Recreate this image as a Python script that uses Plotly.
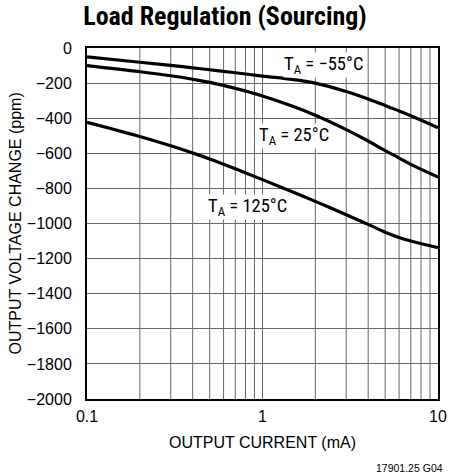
import math
import plotly.graph_objects as go

current_ma = [0.1, 0.2, 0.3, 0.4, 0.5, 0.7, 1, 1.5, 2, 3, 4, 5, 6, 7, 10]
t_m55 = [-51, -81, -99, -113, -124, -141, -160, -180, -200, -248, -290, -327, -359, -386, -454]
t_25 = [-100, -135, -158, -178, -196, -230, -273, -333, -383, -465, -530, -585, -627, -663, -735]
t_125 = [-423, -504, -557, -598, -632, -688, -750, -822, -874, -950, -1005, -1050, -1080, -1100, -1138]

y_ticks = [0, -200, -400, -600, -800, -1000, -1200, -1400, -1600, -1800, -2000]
y_tick_text = ["0" if v == 0 else "\u2212" + str(-v) for v in y_ticks]
x_ticks = [0.1, 1, 10]
x_tick_text = ["0.1", "1", "10"]
x_minor = [m * d for d in (0.1, 1) for m in range(2, 10)]

COND = "Roboto Condensed, Liberation Sans Narrow, Arial Narrow, sans-serif"
REG = "Liberation Sans, Arial, sans-serif"
GRID = "#666"

fig = go.Figure()
for ys in (t_m55, t_25, t_125):
    fig.add_trace(go.Scatter(x=current_ma, y=ys, mode="lines",
                             line=dict(color="black", width=3.2, shape="spline", smoothing=1.1),
                             showlegend=False, hoverinfo="skip"))

for xv in x_minor:
    fig.add_shape(type="line", xref="x", yref="paper", x0=xv, x1=xv, y0=0, y1=1,
                  line=dict(color=GRID, width=1), layer="below")

labels = [("T<sub>A</sub> = \u221255\u00b0C", 1.31, -97),
          ("T<sub>A</sub> = 25\u00b0C", 0.943, -500),
          ("T<sub>A</sub> = 125\u00b0C", 0.483, -904)]
for txt, xv, yv in labels:
    fig.add_annotation(x=math.log10(xv), y=yv, text=txt, showarrow=False,
                       xanchor="left", yanchor="middle",
                       font=dict(family=COND, size=18.5, color="black"),
                       bgcolor="white", borderpad=0)

fig.update_layout(
    width=450, height=475,
    margin=dict(l=87, r=12, t=48, b=76),
    paper_bgcolor="white", plot_bgcolor="white",
    title=dict(text="<b>Load Regulation (Sourcing)</b>", x=0.5, xanchor="center",
               y=0.967, yanchor="middle",
               font=dict(family=COND, size=26, color="black")),
    font=dict(family=REG, color="black"),
    xaxis=dict(type="log", range=[-1, 1], tickvals=x_ticks, ticktext=x_tick_text,
               showgrid=True, gridcolor=GRID, gridwidth=1, automargin=False,
               showline=True, linecolor="black", linewidth=2, mirror=True,
               ticks="", tickfont=dict(family=REG, size=16), ticklabelstandoff=2),
    yaxis=dict(range=[-2000, 0], tickvals=y_ticks, ticktext=y_tick_text,
               showgrid=True, gridcolor=GRID, gridwidth=1, zeroline=False, automargin=False,
               showline=True, linecolor="black", linewidth=2, mirror=True,
               ticks="", tickfont=dict(family=REG, size=16), ticklabelstandoff=10),
)
fig.add_annotation(xref="paper", yref="paper", x=0.5, y=0, yshift=-43,
                   xanchor="center", yanchor="middle", showarrow=False,
                   text="OUTPUT CURRENT (mA)", font=dict(family=REG, size=16, color="black"))
fig.add_annotation(xref="paper", yref="paper", x=0, y=0.5, xshift=-72,
                   xanchor="center", yanchor="middle", textangle=-90, showarrow=False,
                   text="OUTPUT VOLTAGE CHANGE (ppm)", font=dict(family=REG, size=16, color="black"))
fig.add_annotation(xref="paper", yref="paper", x=1.0, xshift=7, y=0, yshift=-69,
                   xanchor="right", yanchor="middle", showarrow=False,
                   text="17901.25 G04", font=dict(family=REG, size=10.5, color="black"))

fig.write_html("out.html", config={"displayModeBar": False}, post_script=(
    "document.body.style.margin='0';"
    "document.body.style.overflow='hidden';"
    "document.documentElement.style.overflow='hidden';"))
